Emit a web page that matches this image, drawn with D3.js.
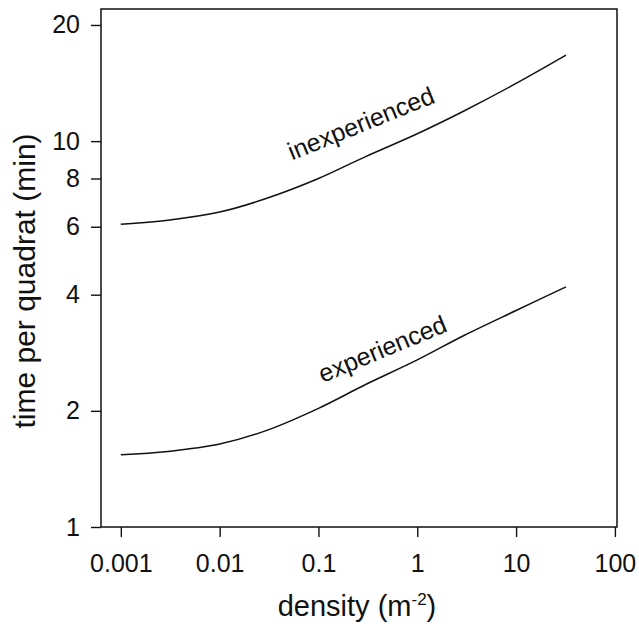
<!DOCTYPE html>
<html>
<head>
<meta charset="utf-8">
<script src="https://cdn.jsdelivr.net/npm/d3@7/dist/d3.min.js"></script>
<style>
  body { margin: 0; background: #fff; }
  svg { font-family: "Liberation Sans", Arial, sans-serif; }
  .axis path { display: none; }
  .axis line { stroke: #111; stroke-width: 1.4; }
  .axis text { font-size: 25px; fill: #111; }
  .curve { fill: none; stroke: #111; stroke-width: 1.5; }
</style>
</head>
<body>
<div id="chart"></div>
<script>
var density = [0.001, 0.003, 0.01, 0.03, 0.1, 0.3, 1, 3, 10, 32];
// time per quadrat (min)
var inexperienced = [6.09, 6.24, 6.55, 7.11, 8.0, 9.12, 10.45, 11.99, 14.11, 16.7];
var experienced   = [1.54, 1.57, 1.64, 1.78, 2.03, 2.34, 2.71, 3.14, 3.64, 4.19];

var xTicks = [0.001, 0.01, 0.1, 1, 10, 100];
var xTickLabels = ["0.001", "0.01", "0.1", "1", "10", "100"];
var yTicks = [1, 2, 4, 6, 8, 10, 20];

// label anchors in data units: [density, time]
var curveLabels = [
  { text: "inexperienced", at: [0.29, 10.6], angle: -22 },
  { text: "experienced", at: [0.48, 2.76], angle: -22.5 }
];

var width = 639, height = 631;

var x = d3.scaleLog().domain([0.00063, 105]).range([101, 617]);
var y = d3.scaleLog().domain([1, 22]).range([527, 9]);

var svg = d3.select("#chart")
  .append("svg")
  .attr("width", width)
  .attr("height", height);

// frame
svg.append("rect")
  .attr("x", x.range()[0])
  .attr("y", y.range()[1])
  .attr("width", x.range()[1] - x.range()[0])
  .attr("height", y.range()[0] - y.range()[1])
  .attr("fill", "none")
  .attr("stroke", "#111")
  .attr("stroke-width", 1.5);

// x axis
svg.append("g")
  .attr("class", "x axis")
  .attr("transform", "translate(0," + y.range()[0] + ")")
  .call(d3.axisBottom(x)
    .tickValues(xTicks)
    .tickFormat(function (d, i) { return xTickLabels[i]; })
    .tickSize(10)
    .tickPadding(17));

// y axis
svg.append("g")
  .attr("class", "y axis")
  .attr("transform", "translate(" + x.range()[0] + ",0)")
  .call(d3.axisLeft(y)
    .tickValues(yTicks)
    .tickFormat(d3.format("d"))
    .tickSize(10)
    .tickPadding(11));

var line = d3.line()
  .x(function (d) { return x(d[0]); })
  .y(function (d) { return y(d[1]); })
  .curve(d3.curveCatmullRom.alpha(0.5));

[inexperienced, experienced].forEach(function (series) {
  svg.append("path")
    .datum(density.map(function (d, i) { return [d, series[i]]; }))
    .attr("class", "curve")
    .attr("d", line);
});

// curve labels
curveLabels.forEach(function (l) {
  svg.append("text")
    .attr("transform", "translate(" + x(l.at[0]) + "," + y(l.at[1]) + ") rotate(" + l.angle + ")")
    .attr("text-anchor", "middle")
    .style("font-size", "25px")
    .attr("fill", "#111")
    .text(l.text);
});

// axis titles
var xTitle = svg.append("text")
  .attr("x", 357)
  .attr("y", 616)
  .attr("text-anchor", "middle")
  .style("font-size", "29px")
  .attr("fill", "#111");
xTitle.append("tspan").text("density (m");
xTitle.append("tspan").attr("dy", -11).style("font-size", "17px").text("-2");
xTitle.append("tspan").attr("dy", 11).text(")");

svg.append("text")
  .attr("transform", "translate(35,281) rotate(-90)")
  .attr("text-anchor", "middle")
  .style("font-size", "30px")
  .attr("fill", "#111")
  .text("time per quadrat (min)");
</script>
</body>
</html>
